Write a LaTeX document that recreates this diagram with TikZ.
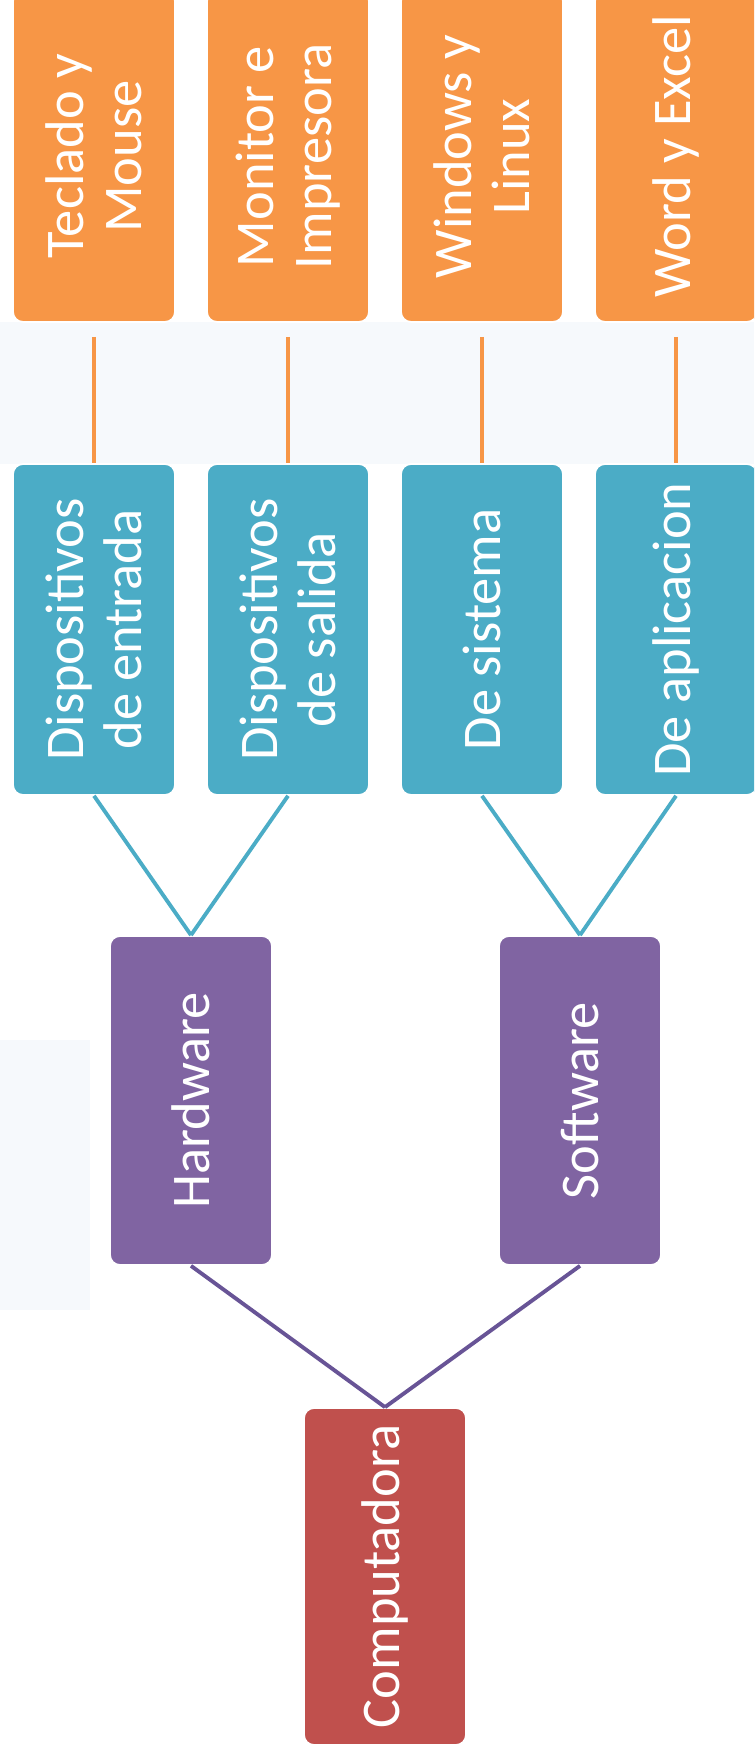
\documentclass[tikz,border=0pt]{standalone}
\usepackage{fontspec}
\setmainfont{Carlito}
\usepackage{tikz}
\definecolor{boxorange}{RGB}{247,150,70}
\definecolor{boxblue}{RGB}{75,172,198}
\definecolor{boxpurple}{RGB}{128,100,162}
\definecolor{boxred}{RGB}{192,80,77}
\definecolor{linepurple}{RGB}{104,84,150}
\definecolor{paleback}{RGB}{246,249,252}

\begin{document}
\begin{tikzpicture}[x=0.02cm,y=0.02cm,
    box/.style={rectangle,rounded corners=0.2cm,draw=white,line width=1pt,text=white,
        rotate=90,minimum height=3.24cm,inner sep=0pt,align=center,
        font=\fontsize{31}{33}\selectfont},
    link/.style={line width=2.2pt}]
    \useasboundingbox (0,0) rectangle (754,1753);
    \clip (0,0) rectangle (754,1753);

    % Background
    \fill[paleback] (0,1289) rectangle (754,1431);
    \fill[paleback] (0,443) rectangle (90,713);

    % Root (nodes are turned: west is the bottom, east is the top)
    \node[box,fill=boxred,minimum width=6.74cm] (comp) at (385,176.5) {Computadora};

    % Hardware and software
    \node[box,fill=boxpurple,minimum width=6.58cm] (hard) at (191,652.5) {Hardware};
    \node[box,fill=boxpurple,minimum width=6.58cm] (soft) at (580,652.5) {Software};

    % Types
    \node[box,fill=boxblue,minimum width=6.62cm] (typ1) at (94,1123.5) {Dispositivos\\de entrada};
    \node[box,fill=boxblue,minimum width=6.62cm] (typ2) at (288,1123.5) {Dispositivos\\de salida};
    \node[box,fill=boxblue,minimum width=6.62cm] (typ3) at (482,1123.5) {De sistema};
    \node[box,fill=boxblue,minimum width=6.62cm] (typ4) at (676,1123.5) {De aplicacion};

    % Examples
    \node[box,fill=boxorange,minimum width=6.62cm] (ex1) at (94,1596.5) {Teclado y\\Mouse};
    \node[box,fill=boxorange,minimum width=6.62cm] (ex2) at (288,1596.5) {Monitor e\\Impresora};
    \node[box,fill=boxorange,minimum width=6.62cm] (ex3) at (482,1596.5) {Windows y\\Linux};
    \node[box,fill=boxorange,minimum width=6.62cm] (ex4) at (676,1596.5) {Word y Excel};

    % Connections
    \draw[link,linepurple] (hard.west) -- (comp.east);
    \draw[link,linepurple] (soft.west) -- (comp.east);
    \draw[link,boxblue] (typ1.west) -- (hard.east);
    \draw[link,boxblue] (typ2.west) -- (hard.east);
    \draw[link,boxblue] (typ3.west) -- (soft.east);
    \draw[link,boxblue] (typ4.west) -- (soft.east);
    \foreach \i in {1,2,3,4} {
        \draw[link,boxorange] ([yshift=-8]ex\i.west) -- (typ\i.east);
    }
\end{tikzpicture}
\end{document}
